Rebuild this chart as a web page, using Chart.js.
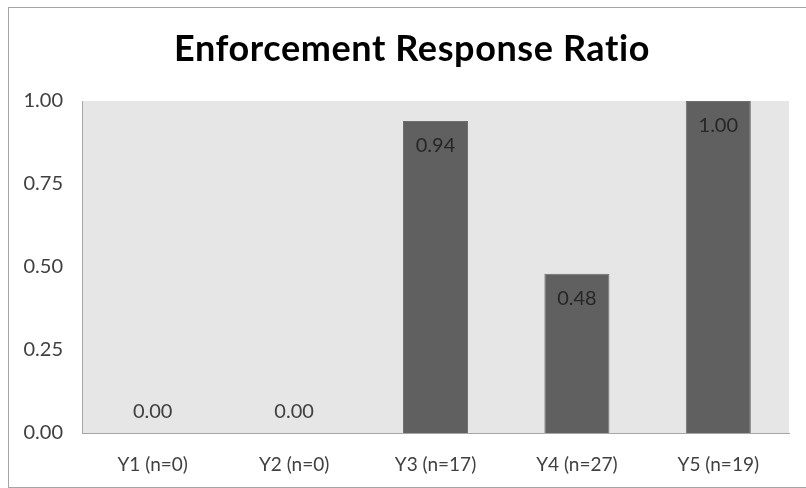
<!DOCTYPE html>
<html>
<head>
<meta charset="utf-8">
<script src="https://cdn.jsdelivr.net/npm/chart.js@4.4.1/dist/chart.umd.min.js"></script>
<style>
  html, body { margin: 0; padding: 0; background: #ffffff; }
  #wrap { position: relative; width: 806px; height: 488px; }
</style>
</head>
<body>
<div id="wrap"><canvas id="chart" width="806" height="488"></canvas></div>
<script>
// Enforcement response ratio by year
const categories = ['Y1 (n=0)', 'Y2 (n=0)', 'Y3 (n=17)', 'Y4 (n=27)', 'Y5 (n=19)'];
const ratios = [0.00, 0.00, 0.94, 0.48, 1.00];
const yTicks = [0, 0.25, 0.5, 0.75, 1.0];
const chartTitle = 'Enforcement Response Ratio';

const FONT = 'Lato, "Open Sans", sans-serif';

// Grey plot background, outer frame, title and in-bar value labels
const decor = {
  id: 'decor',
  beforeDraw(chart) {
    const { ctx, chartArea: a } = chart;
    ctx.save();
    ctx.fillStyle = '#ffffff';
    ctx.fillRect(0, 0, chart.width, chart.height);
    ctx.strokeStyle = '#a6a6a6';
    ctx.lineWidth = 1;
    ctx.strokeRect(8.5, 7.5, chart.width + 10, chart.height - 8);
    ctx.fillStyle = '#e6e6e6';
    ctx.fillRect(a.left, a.top, a.right - a.left, a.bottom - a.top);
    ctx.fillStyle = '#000000';
    ctx.font = 'bold 36px ' + FONT;
    if ('letterSpacing' in ctx) ctx.letterSpacing = '0.6px';
    ctx.textAlign = 'center';
    ctx.textBaseline = 'alphabetic';
    ctx.fillText(chartTitle, 412, 61);
    ctx.restore();
  },
  afterDatasetsDraw(chart) {
    const { ctx } = chart;
    const meta = chart.getDatasetMeta(0);
    const data = chart.data.datasets[0].data;
    ctx.save();
    ctx.font = '20px ' + FONT;
    ctx.textAlign = 'center';
    ctx.textBaseline = 'middle';
    meta.data.forEach((bar, i) => {
      const v = data[i];
      const y = v > 0 ? bar.y + 25 : bar.base - 21;
      ctx.fillStyle = v > 0 ? '#262626' : '#404040';
      ctx.fillText(v.toFixed(2), bar.x, y);
    });
    ctx.restore();
  }
};

new Chart(document.getElementById('chart'), {
  type: 'bar',
  data: {
    labels: categories,
    datasets: [{
      data: ratios,
      backgroundColor: '#606060',
      borderColor: '#6e6e6e',
      borderWidth: 1,
      categoryPercentage: 1.0,
      barPercentage: 0.46
    }]
  },
  options: {
    responsive: false,
    animation: false,
    layout: { padding: { left: 0, right: 17, top: 101, bottom: 0 } },
    plugins: {
      legend: { display: false },
      tooltip: { enabled: false },
      title: { display: false }
    },
    scales: {
      x: {
        grid: { display: false, drawTicks: false },
        border: { display: true, color: '#a6a6a6', width: 1 },
        ticks: { color: '#404040', font: { family: FONT, size: 19 }, padding: 20, maxRotation: 0 },
        afterFit(s) { s.height = 55; }
      },
      y: {
        min: 0,
        max: 1,
        afterBuildTicks(s) { s.ticks = yTicks.map(v => ({ value: v })); },
        grid: { display: false, drawTicks: false },
        border: { display: true, color: '#a6a6a6', width: 1 },
        ticks: {
          color: '#404040',
          font: { family: FONT, size: 20 },
          padding: 19,
          callback: v => Number(v).toFixed(2)
        },
        afterFit(s) { s.width = 82; }
      }
    }
  },
  plugins: [decor]
});
</script>
</body>
</html>
